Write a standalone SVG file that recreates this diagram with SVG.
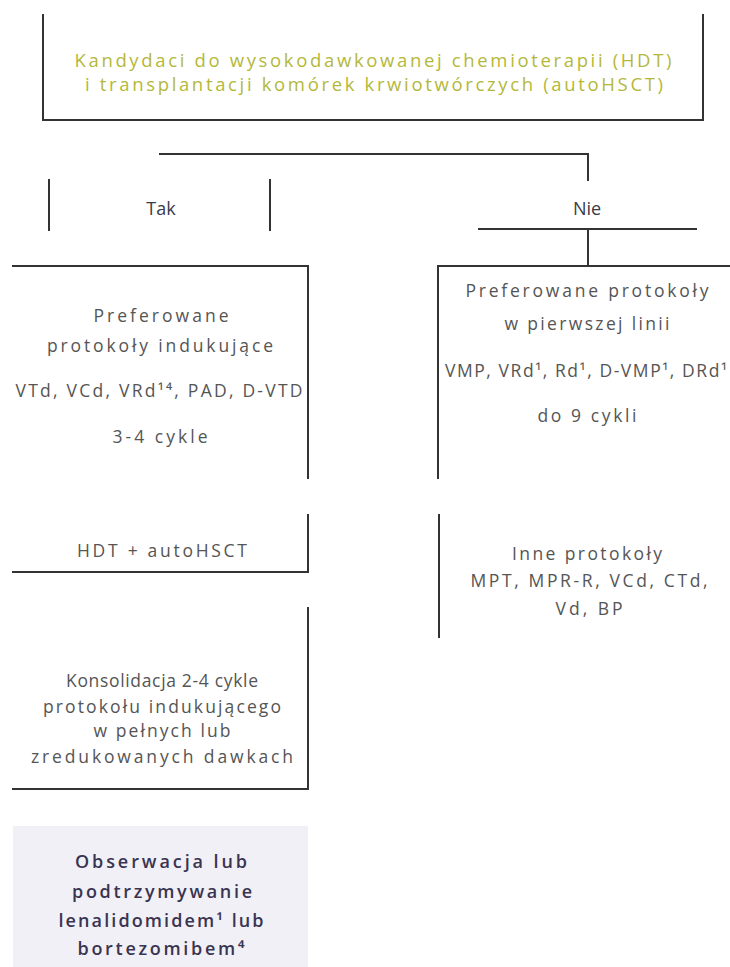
<svg xmlns="http://www.w3.org/2000/svg" width="730" height="967" viewBox="0 0 730 967">
  <style>
    .ln { fill: none; stroke: #333333; stroke-width: 2; stroke-linecap: square; }
    .t { font-family: "Open Sans", "Liberation Sans", sans-serif; font-size: 17.5px; fill: #555555; text-anchor: middle; }
    .head { font-family: "Open Sans", "Liberation Sans", sans-serif; font-size: 18.5px; fill: #b4b83a; text-anchor: middle; }
    .lbl { font-family: "Open Sans", "Liberation Sans", sans-serif; font-size: 18px; fill: #3a3a48; text-anchor: middle; }
    .final { font-family: "Open Sans", "Liberation Sans", sans-serif; font-size: 18px; font-weight: 600; fill: #3a3450; text-anchor: middle; }
  </style>
  <rect width="730" height="967" fill="#ffffff"/>

  <!-- top decision node -->
  <g id="candidates">
    <path class="ln" d="M43 15 V120 H703 V15"/>
    <text class="head" x="373" y="67" textLength="597" lengthAdjust="spacing">Kandydaci do wysokodawkowanej chemioterapii (HDT)</text>
    <text class="head" x="374" y="91" textLength="578" lengthAdjust="spacing">i transplantacji komórek krwiotwórczych (autoHSCT)</text>
  </g>

  <!-- branch connectors -->
  <g id="connectors">
    <path class="ln" d="M160 154 H588 V180"/>
    <path class="ln" d="M588 229 V266"/>
  </g>

  <g id="yes">
    <path class="ln" d="M49 180 V230"/>
    <path class="ln" d="M270 180 V230"/>
    <text class="lbl" x="161" y="215">Tak</text>
  </g>

  <g id="no">
    <path class="ln" d="M479 229 H696"/>
    <text class="lbl" x="587" y="215">Nie</text>
  </g>

  <!-- left column -->
  <g id="induction">
    <path class="ln" d="M13 266 H308 V478"/>
    <text class="t" x="161" y="322" textLength="135" lengthAdjust="spacing">Preferowane</text>
    <text class="t" x="160" y="352" textLength="226" lengthAdjust="spacing">protokoły indukujące</text>
    <text class="t" x="159" y="397" textLength="287" lengthAdjust="spacing">VTd, VCd, VRd¹⁴, PAD, D-VTD</text>
    <text class="t" x="160" y="443" textLength="95" lengthAdjust="spacing">3-4 cykle</text>
  </g>

  <g id="transplant">
    <path class="ln" d="M308 515 V572 H13"/>
    <text class="t" x="162" y="557" textLength="170" lengthAdjust="spacing">HDT + autoHSCT</text>
  </g>

  <g id="consolidation">
    <path class="ln" d="M308 608 V789 H13"/>
    <text class="t" x="162" y="687" textLength="192" lengthAdjust="spacing">Konsolidacja 2-4 cykle</text>
    <text class="t" x="162" y="713" textLength="238" lengthAdjust="spacing">protokołu indukującego</text>
    <text class="t" x="162" y="737" textLength="137" lengthAdjust="spacing">w pełnych lub</text>
    <text class="t" x="162" y="763" textLength="262" lengthAdjust="spacing">zredukowanych dawkach</text>
  </g>

  <g id="maintenance">
    <rect x="13" y="826" width="295" height="141" fill="#f1f0f7"/>
    <text class="final" x="161" y="868" textLength="172" lengthAdjust="spacing">Obserwacja lub</text>
    <text class="final" x="162" y="898" textLength="180" lengthAdjust="spacing">podtrzymywanie</text>
    <text class="final" x="161" y="927" textLength="205" lengthAdjust="spacing">lenalidomidem¹ lub</text>
    <text class="final" x="161" y="955" textLength="167" lengthAdjust="spacing">bortezomibem⁴</text>
  </g>

  <!-- right column -->
  <g id="first-line">
    <path class="ln" d="M730 266 H438 V478"/>
    <text class="t" x="587" y="297" textLength="243" lengthAdjust="spacing">Preferowane protokoły</text>
    <text class="t" x="587" y="330" textLength="165" lengthAdjust="spacing">w pierwszej linii</text>
    <text class="t" x="586" y="377" textLength="282" lengthAdjust="spacing">VMP, VRd¹, Rd¹, D-VMP¹, DRd¹</text>
    <text class="t" x="587" y="422" textLength="99" lengthAdjust="spacing">do 9 cykli</text>
  </g>

  <g id="other">
    <path class="ln" d="M439 515 V637"/>
    <text class="t" x="587" y="560" textLength="150" lengthAdjust="spacing">Inne protokoły</text>
    <text class="t" x="589" y="587" textLength="237" lengthAdjust="spacing">MPT, MPR-R, VCd, CTd,</text>
    <text class="t" x="589" y="615" textLength="67" lengthAdjust="spacing">Vd, BP</text>
  </g>
</svg>
